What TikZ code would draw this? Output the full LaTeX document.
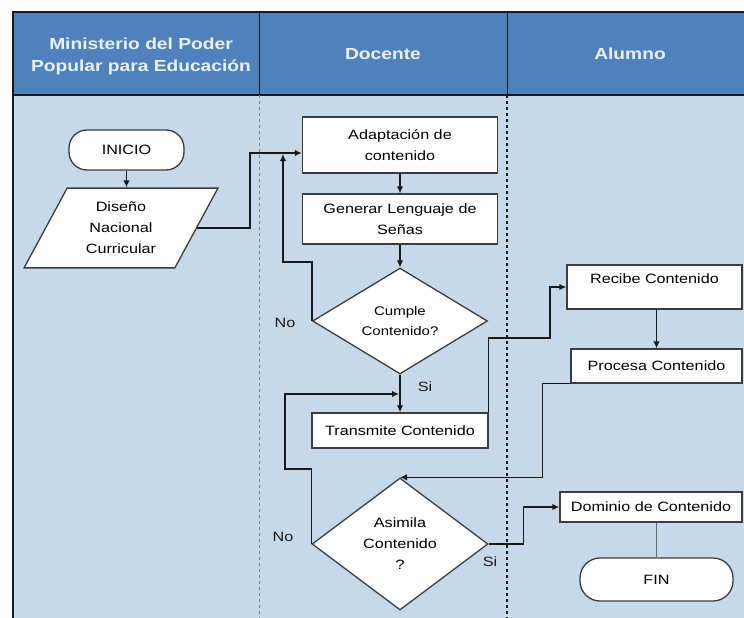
\documentclass[tikz,border=0pt]{standalone}
\usepackage{fontspec}
\newfontfamily\FlowFont[FakeStretch=1.2]{Liberation Sans}
\usepackage{tikz}
\usetikzlibrary{shapes.geometric}
\usetikzlibrary{arrows.meta}
\usepackage{xcolor}
\definecolor{ColWhite}{RGB}{255,255,255}
\definecolor{ColHead}{RGB}{79,129,189}
\definecolor{ColLane}{RGB}{198,217,235}
\definecolor{ColLine}{RGB}{25,25,25}
\definecolor{ColText}{RGB}{235,240,248}
\tikzstyle{LaneHead}=[font=\FlowFont\bfseries\fontsize{16}{22}\selectfont,text=ColText,align=center]
\tikzstyle{NodeBox}=[rectangle,draw=ColLine!85,fill=ColWhite,line width=1.3pt,inner sep=0pt,
align=center,font=\FlowFont\fontsize{13.5}{21}\selectfont]
\tikzstyle{NodeStop}=[NodeBox,rounded corners=18pt]
\tikzstyle{NodeCheck}=[NodeBox,diamond]
\tikzstyle{NodeData}=[NodeBox,trapezium,trapezium left angle=61.6,trapezium right angle=118.4]
\tikzstyle{EdgeFlow}=[ColLine,line width=1.6pt,-{Latex[length=7pt,width=6.5pt]}]
\tikzstyle{EdgeLabel}=[font=\FlowFont\fontsize{13.5}{16}\selectfont,text=ColLine]

\begin{document}
\begin{tikzpicture}[x=1pt,y=-1pt]
        \useasboundingbox(0,0)rectangle(744,618);
        \fill[ColLane](13,95)rectangle(744,618);
        \fill[ColHead](13,12)rectangle(744,95);
        \draw[ColLine,line width=1.3pt](744,12)--(13,12)--(13,618);
        \draw[ColLine,line width=1.3pt](13,95)--(744,95);
        \draw[ColLine,line width=1pt](259,12)--(259,95);
        \draw[ColLine,line width=1pt](507,12)--(507,95);
        \draw[gray,dashed,line width=1pt](259,95)--(259,618);
        \draw[ColLine,dashed,line width=1.2pt](507,95)--(507,618);
        \node[LaneHead](hmin)at(141,56){Ministerio del Poder\\Popular para Educación};
        \node[LaneHead](hdoc)at(383,54){Docente};
        \node[LaneHead](halu)at(630,54){Alumno};
        \node[NodeStop,minimum width=115pt,minimum height=40pt](inicio)at(126.5,150){INICIO};
        \node[NodeData,minimum width=194pt,minimum height=72pt](diseno)at(121,228){Diseño\\Nacional\\Curricular};
        \node[NodeBox,minimum width=195pt,minimum height=56pt](adapt)at(400,145){Adaptación de\\contenido};
        \node[NodeBox,minimum width=195pt,minimum height=50pt](genera)at(400,219){Generar Lenguaje de\\Señas};
        \node[NodeCheck,minimum width=175pt,minimum height=96pt,font=\FlowFont\fontsize{12.5}{20}\selectfont](cumple)at(400,321){Cumple\\Contenido?};
        \node[NodeBox,minimum width=176pt,minimum height=35pt](transm)at(400,430.5){Transmite Contenido};
        \node[NodeCheck,minimum width=176pt,minimum height=132pt](asimila)at(400,544){Asimila\\Contenido\\?};
        \node[NodeBox,minimum width=175pt,minimum height=44pt,text depth=16pt](recibe)at(654.5,287){Recibe Contenido};
        \node[NodeBox,minimum width=171pt,minimum height=34pt](procesa)at(656.5,366){Procesa Contenido};
        \node[NodeBox,minimum width=182pt,minimum height=30pt](dominio)at(651,507){Dominio de Contenido};
        \node[NodeStop,minimum width=153pt,minimum height=43pt,rounded corners=20pt](fin)at(656.5,579.5){FIN};
        \node[EdgeLabel](no1)at(285,323){No};
        \node[EdgeLabel](si1)at(425,387){Si};
        \node[EdgeLabel](no2)at(283,537){No};
        \node[EdgeLabel](si2)at(490,562){Si};
        \draw[EdgeFlow](inicio.south)--(inicio.south|-diseno.north);
        \draw[EdgeFlow](diseno.east)-|(250,153)--([yshift=-8pt]adapt.west);
        \draw[EdgeFlow](adapt)--(genera);
        \draw[EdgeFlow](genera)--(cumple);
        \draw[EdgeFlow](cumple.west)|-(283,262)--(283,154);
        \draw[EdgeFlow](cumple)--(transm);
        \draw[EdgeFlow](transm.north east)|-(550,338)|-(recibe.west);
        \draw[EdgeFlow](procesa.north|-recibe.south)--(procesa.north);
        \draw[EdgeFlow](procesa.south west)--++(-28,0)|-(asimila.north);
        \draw[EdgeFlow](asimila.west)|-(285,469)|-(399,394);
        \draw[EdgeFlow](asimila.east)--++(35,0)|-(dominio.west);
        \draw[EdgeFlow,-,ColLine!65](fin.north|-dominio.south)--(fin.north);
    \end{tikzpicture}
\end{document}
